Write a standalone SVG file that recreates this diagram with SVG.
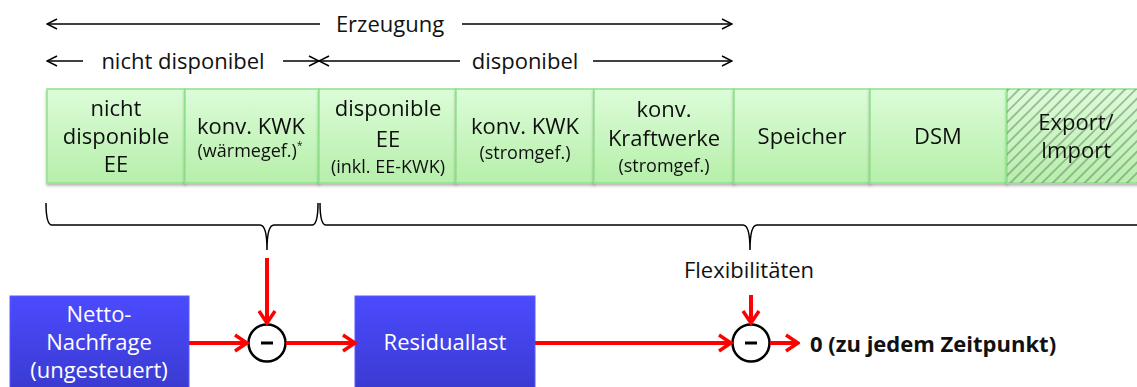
<svg xmlns="http://www.w3.org/2000/svg" width="1137" height="387" viewBox="0 0 1137 387">
<defs>
<linearGradient id="gGreen" x1="0" y1="0" x2="0" y2="1">
<stop offset="0" stop-color="#dcfcd8"/>
<stop offset="1" stop-color="#b6efaa"/>
</linearGradient>
<linearGradient id="gBlue" x1="0" y1="0" x2="0" y2="1">
<stop offset="0" stop-color="#4b4bff"/>
<stop offset="1" stop-color="#3a3ad0"/>
</linearGradient>
<pattern id="hatch" width="7.5" height="7.5" patternUnits="userSpaceOnUse" patternTransform="rotate(45)">
<line x1="3.75" y1="-1" x2="3.75" y2="9" stroke="#6f7f6c" stroke-width="1"/>
</pattern>
<marker id="blk" viewBox="0 0 12 12" refX="11" refY="6" markerWidth="12" markerHeight="12" markerUnits="userSpaceOnUse" orient="auto">
<path d="M1,1 L11,6 L1,11" fill="none" stroke="#000" stroke-width="1.4"/>
</marker>
<marker id="red" viewBox="0 0 16 20" refX="14" refY="10" markerWidth="16" markerHeight="20" markerUnits="userSpaceOnUse" orient="auto">
<path d="M2,2 L14,10 L2,18" fill="none" stroke="#ff0000" stroke-width="3.5"/>
</marker>
<filter id="sh" x="-5%" y="-5%" width="110%" height="120%">
<feDropShadow dx="0" dy="2" stdDeviation="1.5" flood-color="#000" flood-opacity="0.3"/>
</filter>
</defs>
<style>
.t{font-family:"Open Sans","Noto Sans","DejaVu Sans",sans-serif;fill:#111;text-anchor:middle}
.b{font-size:22px}
.s{font-size:18px}
.w{fill:#fff}
.box{fill:url(#gGreen);stroke:#8fe28a;stroke-width:1.5}
.bl{stroke:#000;stroke-width:1.5;fill:none}
.r{stroke:#ff0000;stroke-width:4;fill:none}
.c{fill:#fff;stroke:#000;stroke-width:2.5}
</style>

<g id="headers">
<line class="bl" x1="320" y1="24" x2="47" y2="24" marker-end="url(#blk)"/>
<text class="t b" x="390" y="32">Erzeugung</text>
<line class="bl" x1="462" y1="24" x2="732" y2="24" marker-end="url(#blk)"/>
<line class="bl" x1="83" y1="61" x2="47" y2="61" marker-end="url(#blk)"/>
<text class="t b" x="183" y="69">nicht disponibel</text>
<line class="bl" x1="283" y1="61" x2="319" y2="61" marker-end="url(#blk)"/>
<line class="bl" x1="460" y1="61" x2="319" y2="61" marker-end="url(#blk)"/>
<text class="t b" x="525" y="69">disponibel</text>
<line class="bl" x1="593" y1="61" x2="732" y2="61" marker-end="url(#blk)"/>
</g>

<g id="n1" filter="url(#sh)">
<rect class="box" x="47" y="89" width="138" height="94"/>
<text class="t b" x="116" y="116">nicht</text>
<text class="t b" x="116" y="144">disponible</text>
<text class="t b" x="116" y="172">EE</text>
</g>
<g id="n2" filter="url(#sh)">
<rect class="box" x="185" y="89" width="134" height="94"/>
<text class="t b" x="251" y="134">konv. KWK</text>
<text class="t s" x="250" y="157">(wärmegef.)<tspan font-size="10" dy="-8">*</tspan></text>
</g>
<g id="n3" filter="url(#sh)">
<rect class="box" x="319" y="89" width="137" height="94"/>
<text class="t b" x="388" y="116">disponible</text>
<text class="t b" x="388" y="147">EE</text>
<text class="t s" x="388" y="173">(inkl. EE-KWK)</text>
</g>
<g id="n4" filter="url(#sh)">
<rect class="box" x="456" y="89" width="138" height="94"/>
<text class="t b" x="525" y="134">konv. KWK</text>
<text class="t s" x="525" y="159">(stromgef.)</text>
</g>
<g id="n5" filter="url(#sh)">
<rect class="box" x="594" y="89" width="140" height="94"/>
<text class="t b" x="664" y="117">konv.</text>
<text class="t b" x="664" y="146">Kraftwerke</text>
<text class="t s" x="664" y="172">(stromgef.)</text>
</g>
<g id="n6" filter="url(#sh)">
<rect class="box" x="734" y="89" width="136" height="94"/>
<text class="t b" x="802" y="144">Speicher</text>
</g>
<g id="n7" filter="url(#sh)">
<rect class="box" x="870" y="89" width="137" height="94"/>
<text class="t b" x="938" y="144">DSM</text>
</g>
<g id="n8" filter="url(#sh)">
<rect class="box" x="1007" y="89" width="140" height="94"/>
<rect x="1007" y="89" width="140" height="94" fill="url(#hatch)"/>
<text class="t b" x="1076" y="130">Export/</text>
<text class="t b" x="1076" y="158">Import</text>
</g>

<g id="braces">
<path class="bl" d="M46,203 Q46,225 52,225 L260,225 Q267,225 267,250 Q267,225 274,225 L312,225 Q318,225 318,203"/>
<path class="bl" d="M320,203 Q320,225 326,225 L743,225 Q750,225 750,250 Q750,225 757,225 L1140,225"/>
<text class="t b" x="749" y="278">Flexibilitäten</text>
</g>

<g id="netto">
<rect x="10" y="296" width="179" height="95" fill="url(#gBlue)" stroke="#5a5aff" stroke-width="1"/>
<text class="t b w" x="99" y="322">Netto-</text>
<text class="t b w" x="99" y="350">Nachfrage</text>
<text class="t b w" x="99" y="378">(ungesteuert)</text>
</g>
<g id="residuallast">
<rect x="355" y="296" width="180" height="95" fill="url(#gBlue)" stroke="#5a5aff" stroke-width="1"/>
<text class="t b w" x="445" y="350">Residuallast</text>
</g>
<g id="sum1">
<circle class="c" cx="267" cy="343" r="18.5"/>
<line x1="261" y1="343" x2="273" y2="343" stroke="#000" stroke-width="3"/>
</g>
<g id="sum2">
<circle class="c" cx="751" cy="343" r="18.5"/>
<line x1="745" y1="343" x2="757" y2="343" stroke="#000" stroke-width="3"/>
</g>
<g id="result">
<text class="t b" x="810" y="352" font-weight="bold" style="text-anchor:start">0 (zu jedem Zeitpunkt)</text>
</g>

<g id="connectors">
<line class="r" x1="267" y1="258" x2="267" y2="323" marker-end="url(#red)"/>
<line class="r" x1="189" y1="343" x2="247" y2="343" marker-end="url(#red)"/>
<line class="r" x1="286" y1="343" x2="355" y2="343" marker-end="url(#red)"/>
<line class="r" x1="535" y1="343" x2="731" y2="343" marker-end="url(#red)"/>
<line class="r" x1="751" y1="295" x2="751" y2="323" marker-end="url(#red)"/>
<line class="r" x1="770" y1="343" x2="798" y2="343" marker-end="url(#red)"/>
</g>
</svg>
